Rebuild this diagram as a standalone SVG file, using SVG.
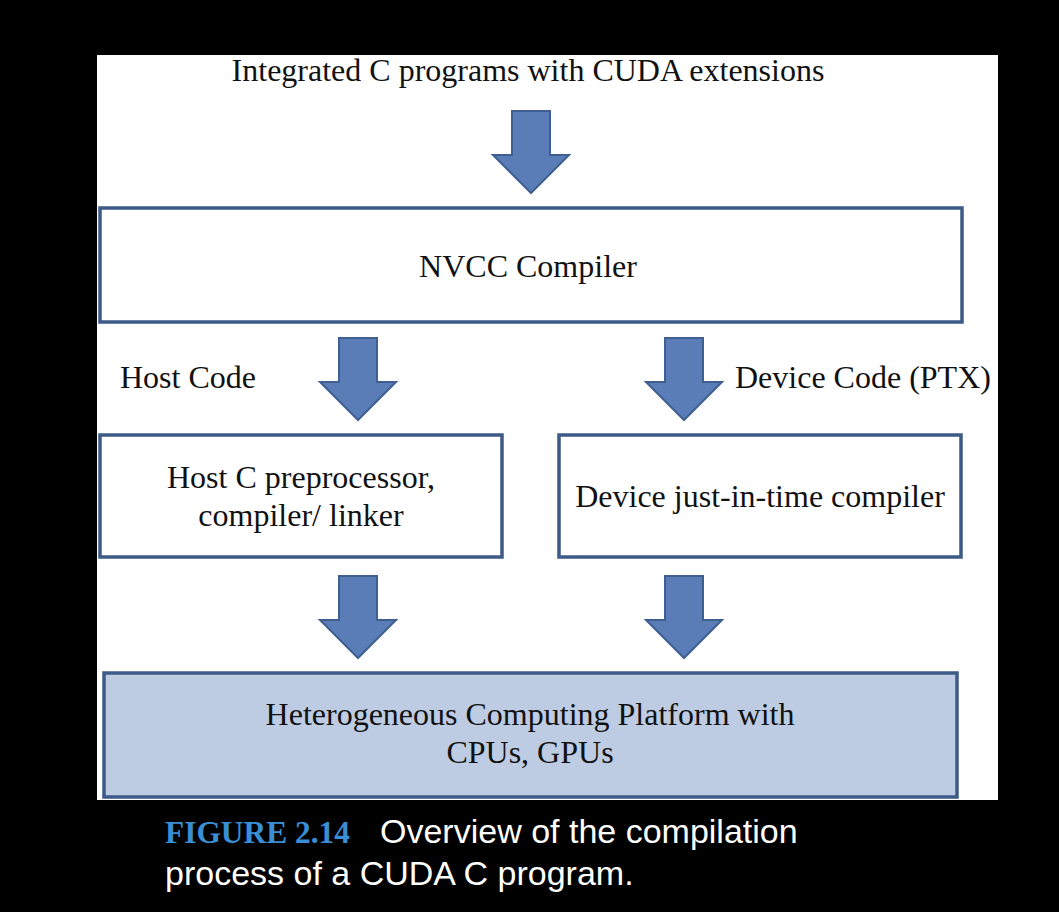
<svg xmlns="http://www.w3.org/2000/svg" width="1059" height="912" viewBox="0 0 1059 912">
<defs>
<style>
.t{font-family:"Liberation Serif","Times New Roman",serif;font-size:32px;fill:#111;}
.box{fill:#fff;stroke:#3D5A88;stroke-width:3.5;}
.arr{fill:#5A7DB8;stroke:#3F5F90;stroke-width:2;stroke-linejoin:miter;}
.cap{font-family:"Liberation Sans",Arial,sans-serif;font-size:34px;fill:#fff;}
</style>
<path id="down" d="M-19 0 H19 V44 H38 L0 82 L-38 44 H-19 Z"/>
</defs>
<rect x="0" y="0" width="1059" height="912" fill="#000"/>
<rect x="97" y="55" width="901" height="745" fill="#fff"/>

<g id="source">
<text class="t" x="528" y="81" text-anchor="middle">Integrated C programs with CUDA extensions</text>
</g>

<g id="nvcc">
<rect class="box" x="100" y="208" width="862" height="114"/>
<text class="t" x="528" y="277" text-anchor="middle">NVCC Compiler</text>
</g>

<g id="host">
<rect class="box" x="100" y="435" width="402" height="122"/>
<text class="t" x="301" y="488" text-anchor="middle">Host C preprocessor,</text>
<text class="t" x="301" y="526" text-anchor="middle">compiler/ linker</text>
</g>

<g id="device">
<rect class="box" x="559" y="435" width="402" height="122"/>
<text class="t" x="760" y="507" text-anchor="middle">Device just-in-time compiler</text>
</g>

<g id="platform">
<rect class="box" x="104" y="673" width="853" height="124" style="fill:#BDCCE3"/>
<text class="t" x="530" y="725" text-anchor="middle">Heterogeneous Computing Platform with</text>
<text class="t" x="530" y="763" text-anchor="middle">CPUs, GPUs</text>
</g>

<g id="connectors">
<use href="#down" class="arr" transform="translate(531,111)"/>
<use href="#down" class="arr" transform="translate(358,338)"/>
<use href="#down" class="arr" transform="translate(684,338)"/>
<use href="#down" class="arr" transform="translate(358,576)"/>
<use href="#down" class="arr" transform="translate(684,576)"/>
<text class="t" x="120" y="388">Host Code</text>
<text class="t" x="735" y="388">Device Code (PTX)</text>
</g>

<g id="caption">
<text x="165" y="843" style="font-family:'Liberation Serif','Times New Roman',serif;font-weight:bold;font-size:32px;fill:#3A8ED3" textLength="185" lengthAdjust="spacingAndGlyphs">FIGURE 2.14</text>
<text class="cap" x="380" y="843">Overview of the compilation</text>
<text class="cap" x="165" y="885">process of a CUDA C program.</text>
</g>
</svg>
